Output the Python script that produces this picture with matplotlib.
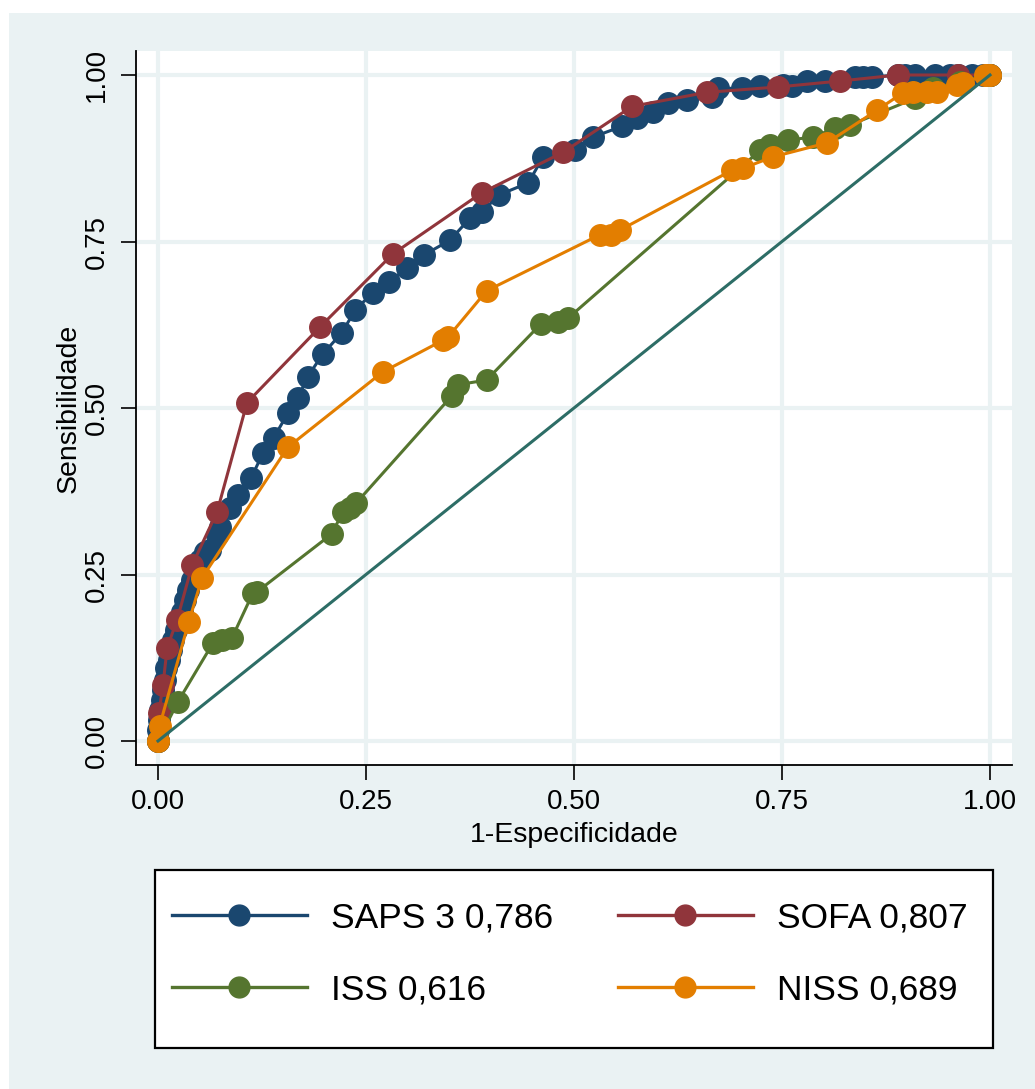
import numpy as np
import matplotlib
matplotlib.use("Agg")
import matplotlib.pyplot as plt
from matplotlib.lines import Line2D
from matplotlib.patches import Rectangle

plt.rcParams['font.family'] = ['Liberation Sans', 'DejaVu Sans']

# ROC coordinates (1-especificidade, sensibilidade) per score
saps_fpr = [0.000, 0.000, 0.001, 0.002, 0.005, 0.006, 0.008, 0.010, 0.013, 0.016,
            0.018, 0.022, 0.025, 0.029, 0.032, 0.036, 0.041, 0.044, 0.050, 0.056,
            0.062, 0.071, 0.075, 0.087, 0.096, 0.112, 0.126, 0.139, 0.156, 0.168,
            0.180, 0.198, 0.221, 0.237, 0.258, 0.278, 0.299, 0.320, 0.351, 0.375,
            0.389, 0.410, 0.445, 0.463, 0.501, 0.523, 0.558, 0.576, 0.595, 0.613,
            0.636, 0.666, 0.673, 0.702, 0.724, 0.751, 0.762, 0.780, 0.802, 0.838,
            0.847, 0.858, 0.889, 0.898, 0.910, 0.934, 0.952, 0.962, 0.978, 0.992,
            1.000]
saps_tpr = [0.000, 0.017, 0.032, 0.047, 0.062, 0.077, 0.092, 0.110, 0.122, 0.137,
            0.152, 0.167, 0.179, 0.194, 0.212, 0.227, 0.242, 0.257, 0.272, 0.284,
            0.287, 0.309, 0.321, 0.350, 0.369, 0.395, 0.432, 0.455, 0.492, 0.515,
            0.547, 0.581, 0.613, 0.647, 0.673, 0.689, 0.710, 0.730, 0.752, 0.785,
            0.794, 0.820, 0.838, 0.877, 0.887, 0.907, 0.923, 0.935, 0.944, 0.958,
            0.962, 0.967, 0.980, 0.980, 0.983, 0.985, 0.983, 0.991, 0.991, 0.997,
            0.997, 0.997, 1.000, 1.000, 1.000, 1.000, 1.000, 1.000, 1.000, 1.000,
            1.000]

sofa_fpr = [0.000, 0.001, 0.006, 0.011, 0.023, 0.041, 0.071, 0.107, 0.195, 0.282,
            0.389, 0.487, 0.570, 0.660, 0.745, 0.820, 0.889, 0.962, 1.000]
sofa_tpr = [0.000, 0.042, 0.084, 0.140, 0.182, 0.264, 0.344, 0.508, 0.622, 0.731,
            0.823, 0.884, 0.953, 0.974, 0.982, 0.991, 1.000, 1.000, 1.000]

iss_fpr = [0.000, 0.024, 0.066, 0.077, 0.089, 0.114, 0.119, 0.209, 0.222, 0.231,
           0.238, 0.353, 0.361, 0.395, 0.460, 0.481, 0.493, 0.724, 0.736, 0.757,
           0.787, 0.814, 0.832, 0.910, 0.932, 0.964, 1.000]
iss_tpr = [0.000, 0.059, 0.147, 0.152, 0.155, 0.222, 0.224, 0.311, 0.344, 0.350,
           0.357, 0.518, 0.535, 0.542, 0.626, 0.629, 0.635, 0.887, 0.895, 0.902,
           0.907, 0.920, 0.925, 0.965, 0.980, 0.990, 1.000]

niss_fpr = [0.000, 0.002, 0.037, 0.053, 0.156, 0.270, 0.343, 0.349, 0.395, 0.531,
            0.544, 0.555, 0.690, 0.703, 0.739, 0.804, 0.864, 0.895, 0.907, 0.924,
            0.936, 0.960, 0.968, 0.994, 1.000]
niss_tpr = [0.000, 0.023, 0.179, 0.245, 0.441, 0.554, 0.602, 0.607, 0.676, 0.760,
            0.760, 0.767, 0.857, 0.860, 0.877, 0.898, 0.947, 0.973, 0.974, 0.974,
            0.974, 0.985, 0.988, 1.000, 1.000]

labels = ['SAPS 3 0,786', 'SOFA 0,807', 'ISS 0,616', 'NISS 0,689']
colors = ['#1A476F', '#90353B', '#55752F', '#E37E00']
ref_color = '#2D6D66'
bg = '#EAF2F3'

W, H = 1035, 1089
fig = plt.figure(figsize=(W / 100, H / 100), dpi=100)
fig.patch.set_facecolor('white')
fig.patches.append(Rectangle((9 / W, 0), 1 - 9 / W, 1 - 13 / H, transform=fig.transFigure,
                             facecolor=bg, edgecolor='none', zorder=-5))

ax = fig.add_axes([136 / W, 1 - 765 / H, 876 / W, 714 / H])
ax.set_zorder(3)
ax.set_facecolor('white')

series = [(saps_fpr, saps_tpr), (sofa_fpr, sofa_tpr), (iss_fpr, iss_tpr), (niss_fpr, niss_tpr)]
for (fx, ty), c in zip(series, colors):
    ax.plot(fx, ty, color=c, lw=2.2, marker='o', ms=15.5, mec=c, mfc=c, zorder=3)
ax.plot([0, 1], [0, 1], color=ref_color, lw=2.2, zorder=4)

ticks = [0, 0.25, 0.5, 0.75, 1.0]
tick_lbl = ['0.00', '0.25', '0.50', '0.75', '1.00']
ax.set_xlim(-22 / 832, 1 + 22 / 832)
ax.set_ylim(-24 / 666, 1 + 24 / 666)
ax.set_xticks(ticks, tick_lbl)
ax.set_yticks(ticks, tick_lbl)
ax.grid(True, color=bg, lw=3, zorder=0)
ax.set_axisbelow(True)
for s in ['top', 'right']:
    ax.spines[s].set_visible(False)
for s in ['left', 'bottom']:
    ax.spines[s].set_linewidth(1.3)
ax.tick_params(axis='both', length=10.5, width=1.2, labelsize=20, direction='out')
ax.tick_params(axis='x', pad=7)
ax.tick_params(axis='y', pad=8, labelrotation=90)
for t in ax.get_yticklabels():
    t.set_va('center')

ax.set_xlabel('1-Especificidade', fontsize=20.5, labelpad=5)
ax.set_ylabel('Sensibilidade', fontsize=20.5, labelpad=2)

# legend frame and two legend columns
fig.patches.append(Rectangle((155 / W, 1 - 1048 / H), 838 / W, 178 / H, transform=fig.transFigure,
                             facecolor='white', edgecolor='black', lw=1.6, zorder=1))
handles = [Line2D([], [], color=c, lw=2.4, marker='o', ms=15) for c in colors]
y_mid = 1 - 954 / H
for idx, x0 in [((0, 2), 172), ((1, 3), 618)]:
    leg = fig.legend([handles[i] for i in idx], [labels[i] for i in idx],
                     loc='center left', bbox_to_anchor=(x0 / W, y_mid),
                     frameon=False, fontsize=25.5, numpoints=1, borderpad=0,
                     borderaxespad=0, handlelength=3.8, handletextpad=0.68,
                     labelspacing=1.1)
    leg.set_zorder(2)

fig.savefig('out.png', dpi=100, facecolor=fig.get_facecolor())
